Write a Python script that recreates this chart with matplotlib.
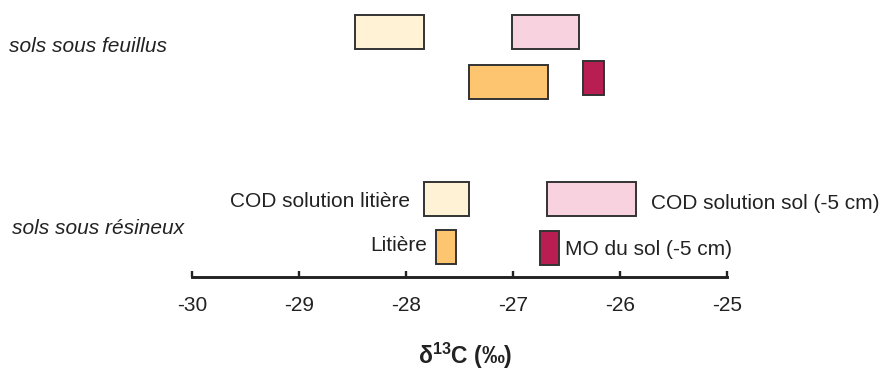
import matplotlib
matplotlib.use("Agg")
import matplotlib.pyplot as plt
from matplotlib.patches import Rectangle

plt.rcParams['font.family'] = ['Liberation Sans', 'DejaVu Sans']
plt.rcParams['mathtext.fontset'] = 'custom'
plt.rcParams['mathtext.rm'] = 'Liberation Sans'
plt.rcParams['mathtext.bf'] = 'Liberation Sans:bold'

# δ13C ranges (‰) for each compartment: (min, max)
series = ["COD solution litière", "COD solution sol (-5 cm)", "Litière", "MO du sol (-5 cm)"]
feuillus_min = [-28.48, -27.01, -27.41, -26.34]
feuillus_max = [-27.83, -26.38, -26.67, -26.15]
resineux_min = [-27.83, -26.68, -27.72, -26.75]
resineux_max = [-27.41, -25.85, -27.53, -26.57]
group_labels = ["sols sous feuillus", "sols sous résineux"]
xticks = [-30, -29, -28, -27, -26, -25]
xlabel = r"δ$^{\mathbf{13}}$C (‰)"

colors = ["#FFF2D5", "#F8D3DF", "#FDC570", "#B81E52"]
edge = "#333333"

# vertical layout (top-down units)
row_center_feuillus = [32.2, 32.2, 81.7, 78.0]
row_center_resineux = [198.7, 198.7, 246.5, 247.8]
box_h = 34.0

fig = plt.figure(figsize=(8.9, 3.74), dpi=100)
ax = fig.add_axes([192 / 890, (374 - 277.3) / 374, (726.7 - 192) / 890, 277.3 / 374])
ax.set_xlim(-30, -25)
ax.set_ylim(277.3, 0)

for lo_list, hi_list, yc_list in [(feuillus_min, feuillus_max, row_center_feuillus),
                                  (resineux_min, resineux_max, row_center_resineux)]:
    for lo, hi, yc, c in zip(lo_list, hi_list, yc_list, colors):
        ax.add_patch(Rectangle((lo, yc - box_h / 2), hi - lo, box_h,
                               facecolor=c, edgecolor=edge, linewidth=1.4,
                               clip_on=False, zorder=3))

fs = 15
tc = "#222222"
# series labels next to the "résineux" boxes
ax.text(resineux_min[0] - 0.13, row_center_resineux[0] + 3, series[0], ha='right', va='center',
        fontsize=fs, color=tc, clip_on=False)
ax.text(resineux_max[1] + 0.14, row_center_resineux[1] + 5, series[1], ha='left', va='center',
        fontsize=fs, color=tc, clip_on=False)
ax.text(resineux_min[2] - 0.08, row_center_resineux[2] - 1, series[2], ha='right', va='center',
        fontsize=fs, color=tc, clip_on=False)
ax.text(resineux_max[3] + 0.06, row_center_resineux[3] + 2, series[3], ha='left', va='center',
        fontsize=fs, color=tc, clip_on=False)

# group labels at the left edge of the figure
fig.text(9 / 890, 1 - 46 / 374, group_labels[0], ha='left', va='center',
         fontsize=fs, style='italic', color=tc)
fig.text(12 / 890, 1 - 228 / 374, group_labels[1], ha='left', va='center',
         fontsize=fs, style='italic', color=tc)

for s in ['top', 'left', 'right']:
    ax.spines[s].set_visible(False)
ax.spines['bottom'].set_linewidth(2.1)
ax.spines['bottom'].set_color(tc)
ax.set_yticks([])
ax.set_xticks(xticks)
ax.set_xticklabels([str(t) for t in xticks])
ax.tick_params(axis='x', direction='in', length=4.5, width=1.7, color=tc,
               pad=13.5, labelsize=fs, labelcolor=tc)
ax.patch.set_visible(False)

fig.text(465 / 890, 1 - 356 / 374, xlabel, ha='center', va='center',
         fontsize=16.5, fontweight='bold', color=tc)

fig.savefig("out.png", dpi=100)
